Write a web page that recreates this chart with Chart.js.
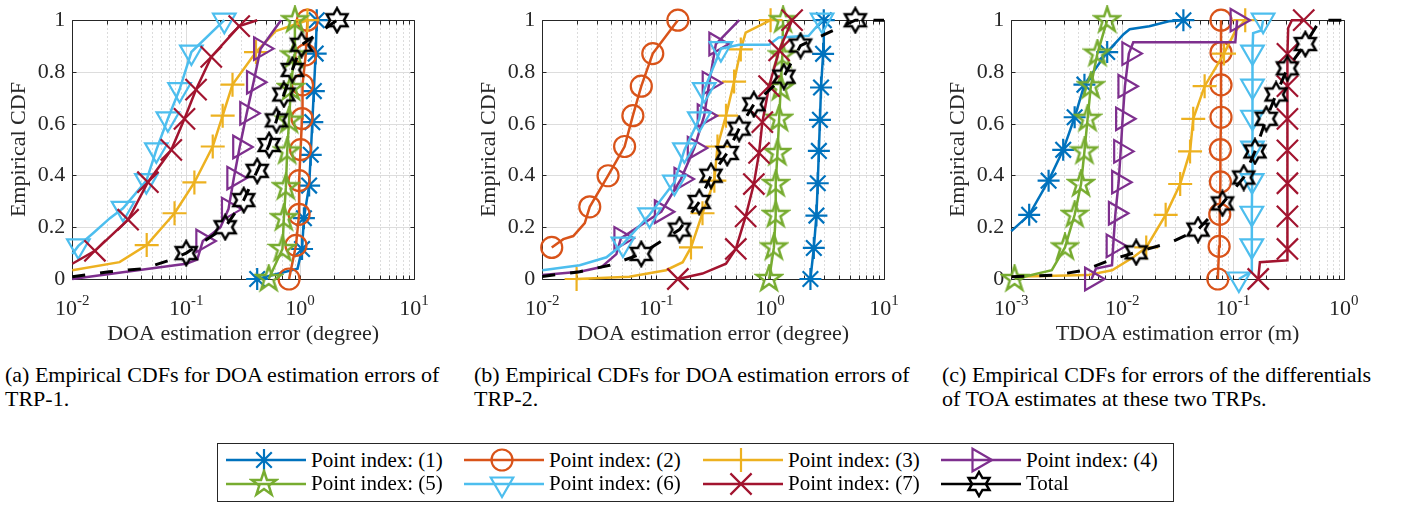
<!DOCTYPE html>
<html>
<head>
<meta charset="utf-8">
<script src="https://cdn.jsdelivr.net/npm/chart.js@4/dist/chart.umd.min.js"></script>
<style>
body { margin: 0; background: #fff; }
#page { position: relative; width: 1402px; height: 505px; overflow: hidden; font-family: 'Liberation Serif', 'Times New Roman', serif; color: #000; }
#page canvas { position: absolute; }
.cap { position: absolute; top: 363px; font-size: 22px; line-height: 24px; white-space: nowrap; }
#legbox { position: absolute; left: 217px; top: 443px; width: 955px; height: 57px; border: 1px solid #262626; }
.ltxt { position: absolute; font-size: 21px; line-height: 24px; white-space: nowrap; }
</style>
</head>
<body>
<div id="page">
  <canvas id="trp1" width="440" height="350" style="left:0px;top:0px"></canvas>
  <canvas id="trp2" width="440" height="350" style="left:470px;top:0px"></canvas>
  <canvas id="tdoa" width="422" height="350" style="left:939px;top:0px"></canvas>
  <div class="cap" style="left:5px">(a) Empirical CDFs for DOA estimation errors of<br>TRP-1.</div>
  <div class="cap" style="left:474px">(b) Empirical CDFs for DOA estimation errors of<br>TRP-2.</div>
  <div class="cap" style="left:942px">(c) Empirical CDFs for errors of the differentials<br>of TOA estimates at these two TRPs.</div>
  <div id="legbox"></div>
</div>
<script>
// series names and colours
const SERIES = ['Point index: (1)', 'Point index: (2)', 'Point index: (3)', 'Point index: (4)',
                'Point index: (5)', 'Point index: (6)', 'Point index: (7)', 'Total'];
const COLORS = ['#0072bd', '#d95319', '#edb120', '#7e2f8e', '#77ac30', '#4dbeee', '#a2142f', '#000000'];

const Y_TICKS = [0, 0.2, 0.4, 0.6, 0.8, 1];
const DOA_DECADES = [-2, -1, 0, 1];
const TDOA_DECADES = [-3, -2, -1, 0];

// points are [error, cdf, marker shown]
// (a) DOA errors, TRP-1
const A1 = [[0.42,0,1],[0.95,0.04],[1.04,0.116,1],[1.08,0.235,1],[1.2,0.361,1],[1.24,0.48,1],[1.28,0.606,1],[1.32,0.726,1],[1.37,0.871,1],[1.4,1,1]];
const A2 = [[0.8,0,1],[0.92,0.13,1],[0.98,0.25,1],[0.98,0.38,1],[1.01,0.5,1],[1.04,0.62,1],[1.05,0.75,1],[1.12,0.866,1],[1.16,1,1]];
const A3 = [[0.01,0.034],[0.026,0.065],[0.045,0.131,1],[0.079,0.254,1],[0.118,0.373,1],[0.171,0.512,1],[0.209,0.631,1],[0.255,0.751,1],[0.41,0.877,1],[0.61,0.958],[1.16,1,1]];
const A4 = [[0.01,0],[0.1,0.059],[0.125,0.075],[0.14,0.147,1],[0.2,0.2],[0.235,0.27,1],[0.262,0.39,1],[0.295,0.51,1],[0.34,0.64,1],[0.39,0.76,1],[0.45,0.89,1],[0.68,1]];
const A5 = [[0.53,0,1],[0.7,0.116,1],[0.72,0.235,1],[0.75,0.355,1],[0.77,0.493,1],[0.8,0.612,1],[0.83,0.738,1],[0.885,0.864,1],[0.9,1,1]];
const A6 = [[0.01,0.097],[0.0113,0.128,1],[0.0153,0.178],[0.0214,0.235],[0.0279,0.273,1],[0.0447,0.38,1],[0.0547,0.499,1],[0.069,0.619,1],[0.0874,0.732,1],[0.111,0.877,1],[0.216,1,1]];
const A7 = [[0.01,0.059],[0.0158,0.109,1],[0.0309,0.229,1],[0.0461,0.374,1],[0.074,0.499,1],[0.0966,0.619,1],[0.122,0.732,1],[0.166,0.858,1],[0.292,0.977,1],[0.42,1]];
const A8 = [[0.01,0.009],[0.021,0.028],[0.042,0.04],[0.071,0.072],[0.1,0.1,1],[0.22,0.2,1],[0.32,0.305,1],[0.42,0.418,1],[0.535,0.518,1],[0.62,0.613,1],[0.72,0.713,1],[0.855,0.808,1],[1.03,0.905,1],[2.11,1,1]];

// (b) DOA errors, TRP-2
const B1 = [[2.26,0,1],[2.42,0.12,1],[2.55,0.245,1],[2.62,0.37,1],[2.68,0.495,1],[2.74,0.615,1],[2.8,0.74,1],[2.92,0.87,1],[2.96,1,1]];
const B2 = [[0.0121,0.122,1],[0.0153,0.154],[0.0187,0.166],[0.0236,0.216],[0.0261,0.279,1],[0.0378,0.399,1],[0.0528,0.512,1],[0.0624,0.631,1],[0.074,0.745,1],[0.0933,0.871,1],[0.155,1,1]];
const B3 = [[0.02,0,1],[0.058,0.009],[0.122,0.034],[0.171,0.065],[0.202,0.122,1],[0.255,0.254,1],[0.324,0.38,1],[0.345,0.512,1],[0.41,0.631,1],[0.483,0.763,1],[0.553,0.887,1],[0.61,0.952],[0.85,0.984],[1.01,1,1]];
const B4 = [[0.01,0.015],[0.0213,0.028],[0.033,0.046],[0.0447,0.096],[0.049,0.157,1],[0.111,0.26,1],[0.165,0.386,1],[0.216,0.506,1],[0.264,0.631,1],[0.292,0.757,1],[0.334,0.908,1],[0.535,1]];
const B5 = [[0.98,0,1],[1.08,0.122,1],[1.12,0.248,1],[1.12,0.367,1],[1.16,0.487,1],[1.2,0.619,1],[1.24,0.738,1],[1.28,0.864,1],[1.3,1,1]];
const B6 = [[0.01,0.034],[0.0213,0.053],[0.0366,0.084],[0.051,0.135,1],[0.0874,0.248,1],[0.1445,0.374,1],[0.177,0.499,1],[0.239,0.619,1],[0.264,0.732,1],[0.37,0.89,1],[0.535,0.905],[0.98,0.905],[1.19,0.933],[2.18,0.94],[2.86,1,1]];
const B7 = [[0.155,0,1],[0.255,0.021],[0.41,0.059],[0.5,0.116,1],[0.61,0.242,1],[0.72,0.367,1],[0.8,0.487,1],[0.855,0.606,1],[0.98,0.745,1],[1.2,0.883,1],[1.56,1,1]];
const B8 = [[0.01,0.01],[0.0213,0.028],[0.039,0.053],[0.074,0.097,1],[0.16,0.191,1],[0.239,0.298,1],[0.303,0.399,1],[0.42,0.487,1],[0.535,0.581,1],[0.72,0.675,1],[1.32,0.782,1],[1.85,0.902,1],[5.6,1,1],[10,1]];

// (c) TDOA errors
const C1 = [[0.001,0.185],[0.00145,0.248,1],[0.00217,0.38,1],[0.00294,0.499,1],[0.00373,0.625,1],[0.00457,0.751,1],[0.00733,0.877,1],[0.0103,0.946],[0.0117,0.965],[0.0176,0.977],[0.0264,0.996],[0.0357,1,1]];
const C2 = [[0.073,0,1],[0.075,0.126,1],[0.076,0.25,1],[0.077,0.375,1],[0.077,0.5,1],[0.078,0.625,1],[0.078,0.75,1],[0.078,0.875,1],[0.078,1,1]];
const C3 = [[0.001,0.009],[0.00488,0.015],[0.0081,0.034],[0.0126,0.084],[0.0165,0.122,1],[0.0247,0.248,1],[0.0334,0.367,1],[0.041,0.493,1],[0.0438,0.619,1],[0.0555,0.745,1],[0.083,0.871,1],[0.105,0.958],[0.129,1,1]];
const C4 = [[0.0053,0,1],[0.0058,0.04],[0.0081,0.053],[0.0083,0.128,1],[0.0087,0.254,1],[0.0093,0.374,1],[0.0097,0.493,1],[0.0101,0.619,1],[0.0106,0.745,1],[0.0115,0.871,1],[0.0126,0.915],[0.105,0.915],[0.109,1,1]];
const C5 = [[0.00107,0,1],[0.00232,0.034],[0.00305,0.122,1],[0.00373,0.248,1],[0.00426,0.367,1],[0.00457,0.493,1],[0.00488,0.619,1],[0.00522,0.745,1],[0.00598,0.871,1],[0.00733,1,1]];
const C6 = [[0.113,0,1],[0.148,0.03],[0.148,0.128,1],[0.148,0.254,1],[0.149,0.38,1],[0.15,0.506,1],[0.15,0.625,1],[0.15,0.745,1],[0.15,0.877,1],[0.152,0.95],[0.18,0.96],[0.187,1,1]];
const C7 = [[0.169,0,1],[0.175,0.065],[0.31,0.072],[0.31,0.116,1],[0.31,0.242,1],[0.31,0.37,1],[0.31,0.497,1],[0.31,0.619,1],[0.31,0.745,1],[0.31,0.87,1],[0.315,0.97],[0.34,1],[0.435,1,1]];
const C8 = [[0.001,0.009],[0.00249,0.015],[0.00457,0.034],[0.0084,0.078],[0.0134,0.103,1],[0.0273,0.141],[0.0484,0.191,1],[0.0804,0.292,1],[0.125,0.392,1],[0.158,0.493,1],[0.2,0.619,1],[0.245,0.713,1],[0.31,0.814,1],[0.45,0.908,1],[0.61,1],[1,1]];


Chart.defaults.font.family = "'Liberation Serif', 'Times New Roman', serif";
const FONT = "'Liberation Serif', 'Times New Roman', serif";

// star outlines (pentagram / hexagram) as little canvases
function starImg(n, outer, inner, color) {
    const s = 2 * Math.ceil(outer + 2);
    const c = document.createElement('canvas');
    c.width = c.height = s;
    const g = c.getContext('2d');
    g.strokeStyle = color;
    g.lineWidth = 2.5;
    g.beginPath();
    for (let i = 0; i < 2 * n; i++) {
        const r = i % 2 ? inner : outer;
        const t = -Math.PI / 2 + i * Math.PI / n;
        const px = s / 2 + r * Math.cos(t), py = s / 2 + r * Math.sin(t);
        if (i) g.lineTo(px, py); else g.moveTo(px, py);
    }
    g.closePath();
    g.stroke();
    return c;
}

const MK = [
    { style: 'star', rot: 0, r: 11 },
    { style: 'circle', rot: 0, r: 10.5 },
    { style: 'cross', rot: 0, r: 12 },
    { style: 'triangle', rot: 90, r: 13 },
    { style: starImg(5, 13, 5, COLORS[4]), rot: 0, r: 10 },
    { style: 'triangle', rot: 180, r: 13 },
    { style: 'crossRot', rot: 0, r: 15 },
    { style: starImg(6, 12, 6.9, COLORS[7]), rot: 0, r: 10 }
];

function makeDatasets(lists) {
    return lists.map((pts, i) => ({
        label: SERIES[i],
        data: pts.map(p => ({ x: p[0], y: p[1], m: p[2] || 0 })),
        borderColor: COLORS[i],
        backgroundColor: 'rgba(0,0,0,0)',
        borderWidth: i === 7 ? 3 : 2.5,
        borderDash: i === 7 ? [13, 15] : [],
        tension: 0,
        pointStyle: MK[i].style,
        pointRotation: MK[i].rot,
        pointRadius: c => (c.raw && c.raw.m) ? MK[i].r : 0,
        pointBorderWidth: 2.2,
        pointBorderColor: COLORS[i],
        pointBackgroundColor: 'rgba(0,0,0,0)',
        order: 8 - i,
        clip: false
    }));
}

// matlab-like axes: dotted minor grid, box, inward ticks, 10^n labels
const matlabAxes = {
    id: 'matlabAxes',
    beforeDatasetsDraw(chart, args, opts) {
        const { ctx, chartArea: a, scales: { x, y } } = chart;
        const dec = opts.decades;
        const first = dec[0], last = dec[dec.length - 1];
        const L = Math.round(a.left) + 0.5, R = Math.round(a.right) + 0.5;
        const T = Math.round(a.top) + 0.5, B = Math.round(a.bottom) + 0.5;
        const px = v => Math.round(x.getPixelForValue(v)) + 0.5;
        const py = v => Math.round(y.getPixelForValue(v)) + 0.5;

        const minor = [];
        for (let d = first; d < last; d++)
            for (let k = 2; k <= 9; k++) minor.push(px(k * Math.pow(10, d)));
        const major = dec.map(d => px(Math.pow(10, d)));

        ctx.save();
        ctx.lineWidth = 1;

        ctx.strokeStyle = '#b8b8b8';
        ctx.setLineDash([1, 3]);
        ctx.beginPath();
        minor.forEach(p => { ctx.moveTo(p, T); ctx.lineTo(p, B); });
        ctx.stroke();

        ctx.setLineDash([]);
        ctx.strokeStyle = '#dddddd';
        ctx.beginPath();
        major.slice(1, -1).forEach(p => { ctx.moveTo(p, T); ctx.lineTo(p, B); });
        Y_TICKS.slice(1, -1).forEach(v => { ctx.moveTo(L, py(v)); ctx.lineTo(R, py(v)); });
        ctx.stroke();

        ctx.strokeStyle = '#262626';
        ctx.beginPath();
        ctx.rect(L, T, R - L, B - T);
        const tl = 4;
        minor.concat(major).forEach(p => {
            ctx.moveTo(p, B); ctx.lineTo(p, B - tl);
            ctx.moveTo(p, T); ctx.lineTo(p, T + tl);
        });
        Y_TICKS.forEach(v => {
            ctx.moveTo(L, py(v)); ctx.lineTo(L + tl, py(v));
            ctx.moveTo(R, py(v)); ctx.lineTo(R - tl, py(v));
        });
        ctx.stroke();

        ctx.fillStyle = '#262626';
        ctx.textBaseline = 'alphabetic';
        ctx.textAlign = 'left';
        dec.forEach(d => {
            const cx = x.getPixelForValue(Math.pow(10, d));
            ctx.font = '22px ' + FONT;
            const w1 = ctx.measureText('10').width;
            ctx.font = '15px ' + FONT;
            const w2 = ctx.measureText(String(d)).width;
            const x0 = cx - (w1 + w2) / 2;
            ctx.font = '22px ' + FONT;
            ctx.fillText('10', x0, a.bottom + 36);
            ctx.font = '15px ' + FONT;
            ctx.fillText(String(d), x0 + w1, a.bottom + 26);
        });
        ctx.restore();
    }
};

function makeChart(id, lists, decades, xTitle, padRight) {
    return new Chart(document.getElementById(id), {
        type: 'line',
        data: { datasets: makeDatasets(lists) },
        options: {
            responsive: false,
            animation: false,
            events: [],
            layout: { padding: { top: 14.3, right: padRight, left: 0, bottom: 0 } },
            plugins: {
                legend: { display: false },
                tooltip: { enabled: false },
                matlabAxes: { decades: decades }
            },
            scales: {
                x: {
                    type: 'logarithmic',
                    min: Math.pow(10, decades[0]),
                    max: Math.pow(10, decades[decades.length - 1]),
                    grid: { display: false, drawTicks: false },
                    border: { display: false },
                    ticks: { display: false },
                    title: { display: true, text: xTitle, color: '#262626', font: { size: 22 }, padding: { top: 0, bottom: 3 } },
                    afterFit: s => { s.height = 71; }
                },
                y: {
                    min: 0,
                    max: 1,
                    afterBuildTicks: s => { s.ticks = Y_TICKS.map(v => ({ value: v })); },
                    ticks: { color: '#262626', font: { size: 22 }, padding: 7, callback: v => String(+(+v).toFixed(1)) },
                    grid: { display: false, drawTicks: false },
                    border: { display: false },
                    title: { display: true, text: 'Empirical CDF', color: '#262626', font: { size: 22 }, padding: { top: 6, bottom: 0 } },
                    afterFit: s => { s.width = 72.3; }
                }
            }
        },
        plugins: [matlabAxes]
    });
}

makeChart('trp1', [A1, A2, A3, A4, A5, A6, A7, A8], DOA_DECADES, 'DOA estimation error (degree)', 26);
makeChart('trp2', [B1, B2, B3, B4, B5, B6, B7, B8], DOA_DECADES, 'DOA estimation error (degree)', 26);
makeChart('tdoa', [C1, C2, C3, C4, C5, C6, C7, C8], TDOA_DECADES, 'TDOA estimation error (m)', 8);

// Legend
function drawMarker(g, i, cx, cy) {
    const m = MK[i], r = m.r, d = r * Math.SQRT1_2;
    g.strokeStyle = COLORS[i];
    g.lineWidth = 2.2;
    g.setLineDash([]);
    g.beginPath();
    if (typeof m.style !== 'string') {
        g.drawImage(m.style, cx - m.style.width / 2, cy - m.style.height / 2);
        return;
    }
    if (m.style === 'circle') {
        g.arc(cx, cy, r, 0, Math.PI * 2);
    } else if (m.style === 'cross' || m.style === 'star') {
        g.moveTo(cx - r, cy); g.lineTo(cx + r, cy);
        g.moveTo(cx, cy - r); g.lineTo(cx, cy + r);
    }
    if (m.style === 'crossRot' || m.style === 'star') {
        g.moveTo(cx - d, cy - d); g.lineTo(cx + d, cy + d);
        g.moveTo(cx - d, cy + d); g.lineTo(cx + d, cy - d);
    }
    if (m.style === 'triangle') {
        for (let k = 0; k < 3; k++) {
            const t = (m.rot + k * 120) * Math.PI / 180;
            const qx = cx + Math.sin(t) * r, qy = cy - Math.cos(t) * r;
            if (k) g.lineTo(qx, qy); else g.moveTo(qx, qy);
        }
        g.closePath();
    }
    g.stroke();
}

const page = document.getElementById('page');
SERIES.forEach((name, i) => {
    const col = i % 4, row = Math.floor(i / 4);
    const x0 = 225.5 + 238.5 * col;
    const yc = 460 + 23.5 * row;
    const cv = document.createElement('canvas');
    cv.width = 80; cv.height = 30;
    cv.style.left = Math.round(x0) + 'px';
    cv.style.top = Math.round(yc - 15) + 'px';
    page.appendChild(cv);
    const g = cv.getContext('2d');
    g.strokeStyle = COLORS[i];
    g.lineWidth = 2.5;
    g.beginPath();
    g.moveTo(0, 15); g.lineTo(80, 15);
    g.stroke();
    drawMarker(g, i, 38, 15);
    const t = document.createElement('div');
    t.className = 'ltxt';
    t.textContent = name;
    t.style.left = Math.round(x0 + 85) + 'px';
    t.style.top = (yc + 6.7 - 19.1) + 'px';
    page.appendChild(t);
});
</script>
</body>
</html>
